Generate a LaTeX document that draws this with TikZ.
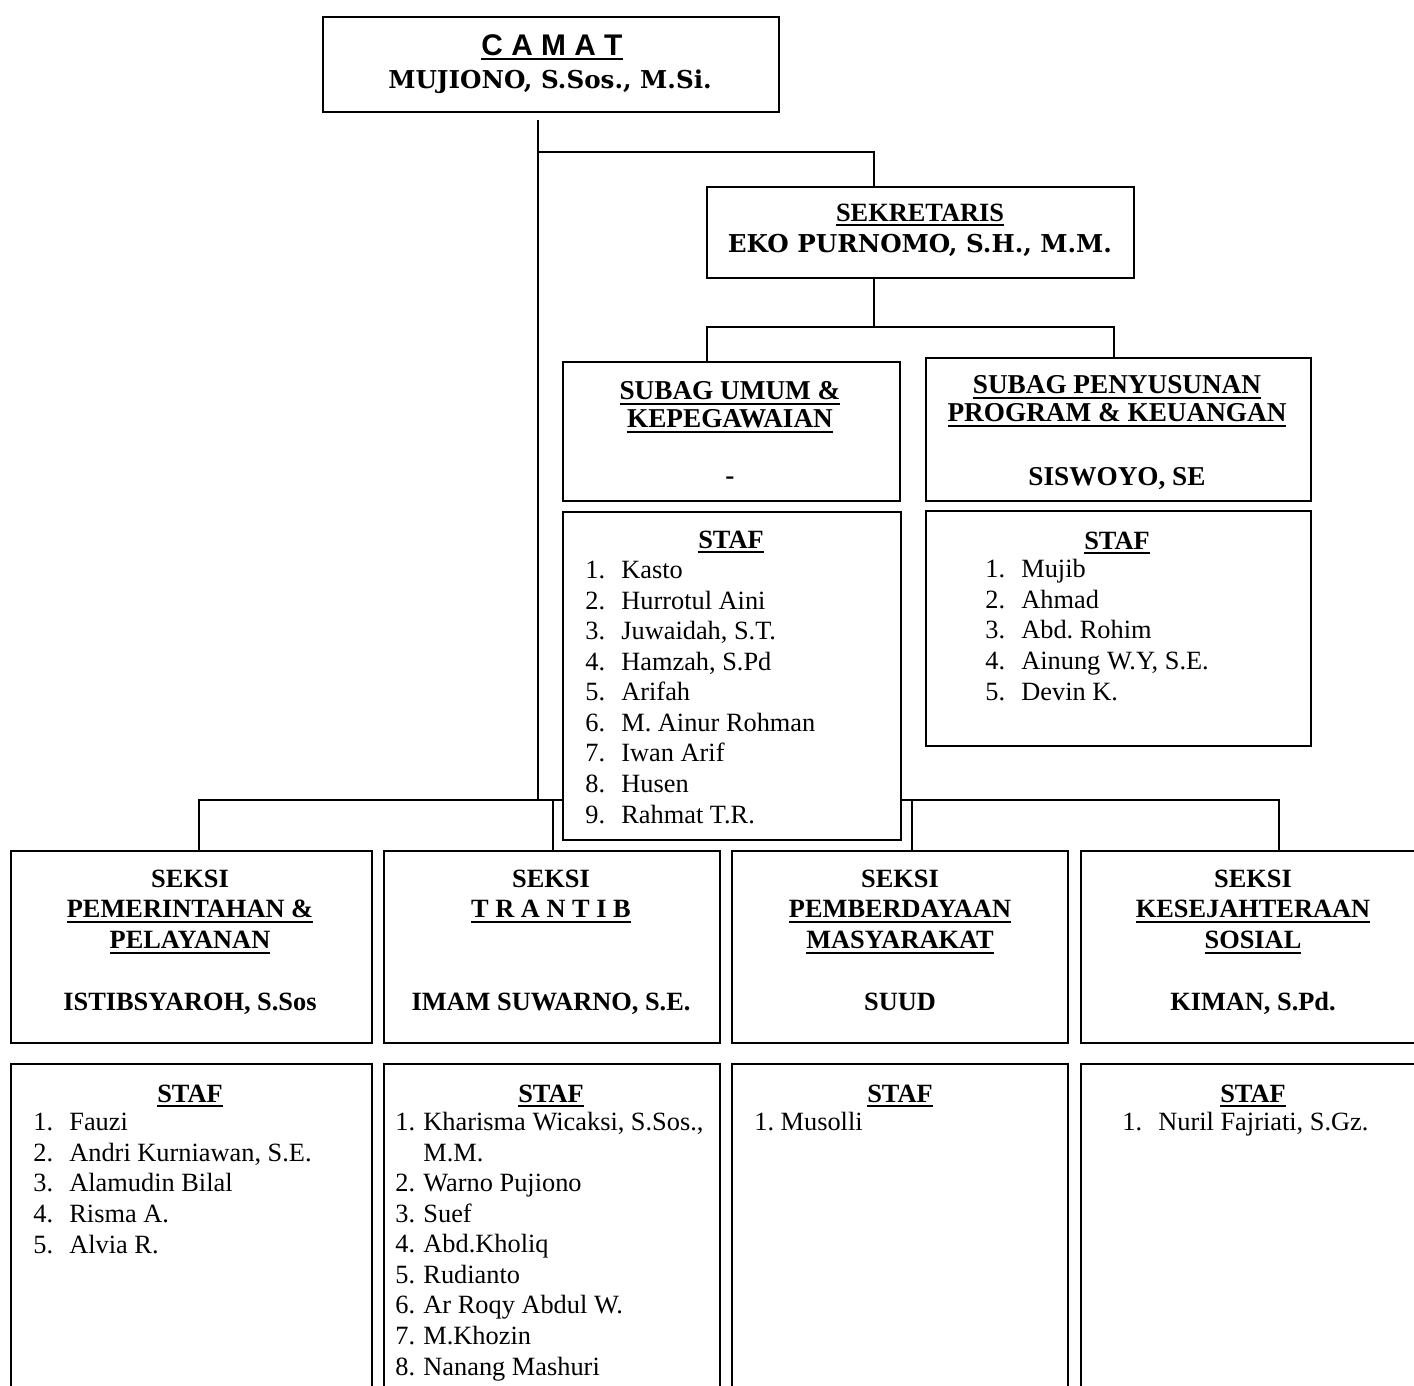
\documentclass[tikz,border=0pt]{standalone}
\usepackage{fontspec}
\setmainfont{Liberation Serif}
\newfontfamily\camatfont{Liberation Sans}
\newfontfamily\bossfont{DejaVu Serif}
\usetikzlibrary{backgrounds}
\frenchspacing

% Thick underline as in the typed chart
\newcommand{\thul}[1]{\setbox0=\hbox{#1}\rlap{\rule[-3pt]{\wd0}{1.3pt}}\box0}
% Number column of the staff lists
\newcommand{\stno}[2][20.5pt]{\makebox[#1][l]{#2}}

\begin{document}
\begin{tikzpicture}[x=0.02cm, y=-0.02cm]
    % Define styles
    \tikzset{
        box/.style={draw, line width=1.3pt, fill=white, anchor=north west, inner sep=0pt},
        link/.style={line width=1.1pt},
        head/.style={align=center, anchor=base, inner sep=0pt, font=\bfseries\fontsize{15}{17.5}\selectfont},
        boss/.style={anchor=base, inner sep=0pt, font=\bossfont\bfseries\fontsize{14}{16}\selectfont},
        list/.style={align=left, anchor=base west, inner sep=0pt, font=\fontsize{15}{17.4}\selectfont}
    }

    % Define unit for box sizes
    \def\px{0.02cm}

    \useasboundingbox (0,0) rectangle (1414,1386);
    \clip (0,0) rectangle (1414,1386);

    % Draw the boxes
    \node[box, minimum width=456*\px, minimum height=95*\px] (camat) at (322,16) {};
    \node[box, minimum width=427*\px, minimum height=91*\px] (sekr) at (706,186) {};
    \node[box, minimum width=337*\px, minimum height=139*\px] (subagU) at (562,361) {};
    \node[box, minimum width=385*\px, minimum height=143*\px] (subagP) at (925,357) {};
    \node[box, minimum width=338*\px, minimum height=328*\px] (stafU) at (562,511) {};
    \node[box, minimum width=385*\px, minimum height=235*\px] (stafP) at (925,510) {};

    \node[box, minimum width=361*\px, minimum height=192*\px] (seksiA) at (10,850) {};
    \node[box, minimum width=336*\px, minimum height=192*\px] (seksiB) at (383,850) {};
    \node[box, minimum width=336*\px, minimum height=192*\px] (seksiC) at (731,850) {};
    \node[box, minimum width=345*\px, minimum height=192*\px] (seksiD) at (1080,850) {};

    \node[box, minimum width=361*\px, minimum height=340*\px] (stafA) at (10,1063) {};
    \node[box, minimum width=336*\px, minimum height=340*\px] (stafB) at (383,1063) {};
    \node[box, minimum width=336*\px, minimum height=340*\px] (stafC) at (731,1063) {};
    \node[box, minimum width=345*\px, minimum height=340*\px] (stafD) at (1080,1063) {};

    % Define coordinates for the joints of the connectors
    \coordinate (trunk) at (538,800);
    \coordinate (sekJ) at (538,152);
    \coordinate (sekX) at (874,152);
    \coordinate (subJ) at (874,327);
    \coordinate (umumJ) at (707,327);
    \coordinate (progJ) at (1114,327);
    \coordinate (pemJ) at (199,800);
    \coordinate (tranJ) at (553,800);
    \coordinate (berJ) at (912,800);
    \coordinate (sosJ) at (1279,800);

    % Draw the connectors behind the boxes
    \begin{pgfonlayer}{background}
        \draw[link] ([yshift=-4pt]camat.south -| trunk) -- (trunk);
        \draw[link] (sekJ) -- (sekX) -- (sekX |- sekr.north);
        \draw[link] (sekr.south -| subJ) -- (subJ);
        \draw[link] (umumJ |- subagU.north) -- (umumJ) -- (progJ) -- (progJ |- subagP.north);
        \draw[link] (pemJ |- seksiA.north) -- (pemJ) -- (sosJ) -- (sosJ |- seksiD.north);
        \draw[link] (tranJ) -- (tranJ |- seksiB.north);
        \draw[link] (berJ) -- (berJ |- seksiC.north);
    \end{pgfonlayer}

    % Camat and sekretaris
    \node[anchor=base, inner sep=0pt, font=\camatfont\bfseries\fontsize{17}{19}\selectfont] (camatT) at (552,55) {\thul{C A M A T}};
    \node[boss] (camatN) at (550,88) {MUJIONO, S.Sos., M.Si.};
    \node[head] (sekrT) at (920,221) {\thul{SEKRETARIS}};
    \node[boss] (sekrN) at (920,252) {EKO PURNOMO, S.H., M.M.};

    % Subag boxes (multi-line texts sit on their last line)
    \node[head, font=\bfseries\fontsize{15.5}{16}\selectfont] (subagUT) at (730,484)
        {\thul{SUBAG UMUM \&}\\\thul{KEPEGAWAIAN}\\[16pt]-};
    \node[head, font=\bfseries\fontsize{15.5}{16}\selectfont] (subagPT) at (1117,485)
        {\thul{SUBAG PENYUSUNAN}\\\thul{PROGRAM \& KEUANGAN}\\[20pt]SISWOYO, SE};

    \node[head] (stafUT) at (731,548) {\thul{STAF}};
    \node[list] (stafUL) at (585,823)
        {\stno{1.}Kasto\\\stno{2.}Hurrotul Aini\\\stno{3.}Juwaidah, S.T.\\\stno{4.}Hamzah, S.Pd\\
         \stno{5.}Arifah\\\stno{6.}M. Ainur Rohman\\\stno{7.}Iwan Arif\\\stno{8.}Husen\\\stno{9.}Rahmat T.R.};
    \node[head] (stafPT) at (1117,549) {\thul{STAF}};
    \node[list] (stafPL) at (985,700)
        {\stno{1.}Mujib\\\stno{2.}Ahmad\\\stno{3.}Abd. Rohim\\\stno{4.}Ainung W.Y, S.E.\\\stno{5.}Devin K.};

    % Seksi boxes
    \node[head] (seksiAT) at (190,1010) {SEKSI\\\thul{PEMERINTAHAN \&}\\\thul{PELAYANAN}\\[17.5pt]ISTIBSYAROH, S.Sos};
    \node[head] (seksiBT) at (551,1010) {SEKSI\\\thul{T R A N T I B}\\[35pt]IMAM SUWARNO, S.E.};
    \node[head] (seksiCT) at (900,1010) {SEKSI\\\thul{PEMBERDAYAAN}\\\thul{MASYARAKAT}\\[17.5pt]SUUD};
    \node[head] (seksiDT) at (1253,1010) {SEKSI\\\thul{KESEJAHTERAAN}\\\thul{SOSIAL}\\[17.5pt]KIMAN, S.Pd.};

    % Staf of the seksi
    \node[head] (stafAT) at (190,1102) {\thul{STAF}};
    \node[list] (stafAL) at (33,1253)
        {\stno{1.}Fauzi\\\stno{2.}Andri Kurniawan, S.E.\\\stno{3.}Alamudin Bilal\\\stno{4.}Risma A.\\\stno{5.}Alvia R.};
    \node[head] (stafBT) at (551,1102) {\thul{STAF}};
    \node[list] (stafBL) at (395,1375)
        {\stno[16pt]{1.}Kharisma Wicaksi, S.Sos.,\\\stno[16pt]{}M.M.\\\stno[16pt]{2.}Warno Pujiono\\\stno[16pt]{3.}Suef\\
         \stno[16pt]{4.}Abd.Kholiq\\\stno[16pt]{5.}Rudianto\\\stno[16pt]{6.}Ar Roqy Abdul W.\\\stno[16pt]{7.}M.Khozin\\
         \stno[16pt]{8.}Nanang Mashuri};
    \node[head] (stafCT) at (900,1102) {\thul{STAF}};
    \node[list] (stafCL) at (754,1130) {1. Musolli};
    \node[head] (stafDT) at (1253,1102) {\thul{STAF}};
    \node[list] (stafDL) at (1122,1130) {\stno{1.}Nuril Fajriati, S.Gz.};
\end{tikzpicture}
\end{document}
